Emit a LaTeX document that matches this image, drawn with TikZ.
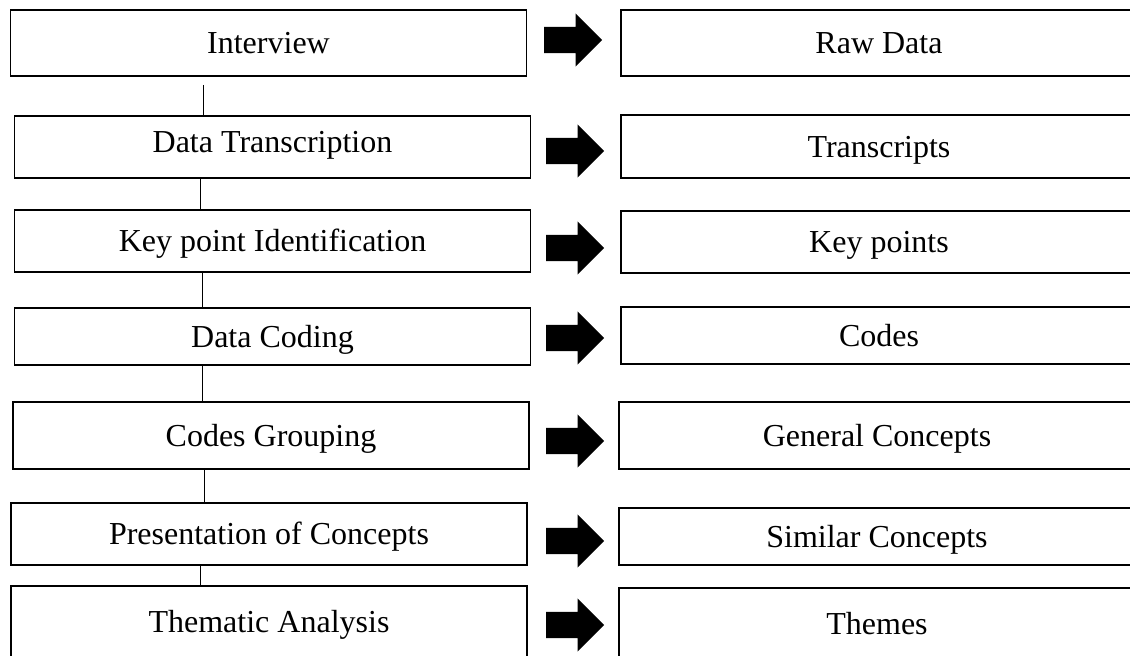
\documentclass[tikz,border=0pt]{standalone}
\usepackage{fontspec}
\setmainfont{Liberation Serif}
\usetikzlibrary{shapes.arrows}
\tikzset{
	stepbox/.style={draw, line width=1.6pt, minimum width=516pt, inner sep=0pt, text height=21pt, text depth=0pt, font=\fontsize{32}{38}\selectfont},
	link/.style={line width=1pt},
	bigarrow/.style={single arrow, anchor=tail, fill=black, draw=none, inner sep=0pt, text height=26pt, text depth=0pt, text width=0pt, minimum height=58pt, single arrow head extend=13.5pt, single arrow head indent=0pt}
}
\begin{document}
\begin{tikzpicture}[x=1pt, y=-1pt, line join=miter]
	\useasboundingbox (0,0) rectangle (1130,656);
	% process steps
	\node[stepbox, minimum height=66pt] (interview) at (268.5,43) {Interview};
	\node[stepbox, minimum height=62pt, text depth=10pt] (transcription) at (272.5,147) {Data Transcription};
	\node[stepbox, minimum height=62pt] (keyid) at (272.5,241) {Key point Identification};
	\node[stepbox, minimum height=57pt] (coding) at (272.5,336.5) {Data Coding};
	\node[stepbox, minimum height=67pt] (grouping) at (271,435.5) {Codes Grouping};
	\node[stepbox, minimum height=62pt] (presentation) at (269,534) {Presentation of Concepts};
	\node[stepbox, minimum height=72pt] (thematic) at (269,622) {Thematic Analysis};
	% outputs
	\node[stepbox, minimum height=66pt] (rawdata) at (879,43) {Raw Data};
	\node[stepbox, minimum height=63pt] (transcripts) at (879,146.5) {Transcripts};
	\node[stepbox, minimum height=62pt] (keypoints) at (879,242) {Key points};
	\node[stepbox, minimum height=57pt] (codes) at (879,335.5) {Codes};
	\node[stepbox, minimum height=67pt] (concepts) at (877,435.5) {General Concepts};
	\node[stepbox, minimum height=57pt] (similar) at (877,536.5) {Similar Concepts};
	\node[stepbox, minimum height=72pt] (themes) at (877,624) {Themes};
	% arrows
	\node[bigarrow] (a1) at (544,40) {};
	\node[bigarrow] (a2) at (546,151) {};
	\node[bigarrow] (a3) at (546,248) {};
	\node[bigarrow] (a4) at (546,338) {};
	\node[bigarrow] (a5) at (546,441) {};
	\node[bigarrow] (a6) at (546,541) {};
	\node[bigarrow] (a7) at (546,625) {};
	% links between steps
	\draw[link] ([xshift=-65.5pt, yshift=-8pt]interview.south) -- ([xshift=-65.5pt]interview.south |- transcription.north);
	\draw[link] ([xshift=-72.5pt]transcription.south) -- ([xshift=-72.5pt]transcription.south |- keyid.north);
	\draw[link] ([xshift=-70.5pt]keyid.south) -- ([xshift=-70.5pt]keyid.south |- coding.north);
	\draw[link] ([xshift=-70.5pt]coding.south) -- ([xshift=-70.5pt]coding.south |- grouping.north);
	\draw[link] ([xshift=-67pt]grouping.south) -- ([xshift=-67pt]grouping.south |- presentation.north);
	\draw[link] ([xshift=-69pt]presentation.south) -- ([xshift=-69pt]presentation.south |- thematic.north);
\end{tikzpicture}
\end{document}
